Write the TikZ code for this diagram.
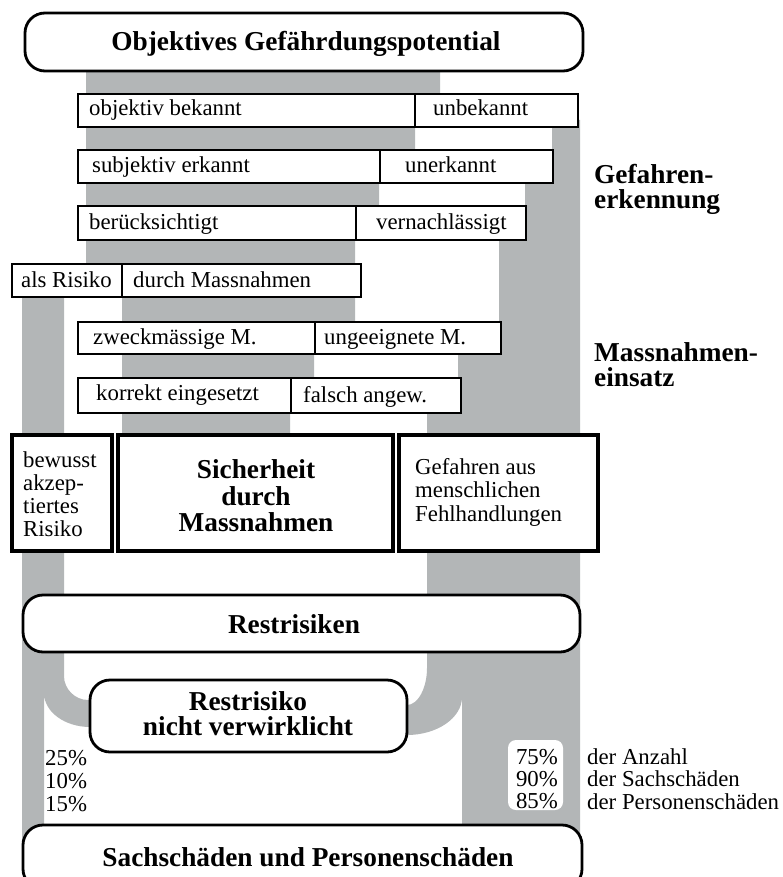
\documentclass[tikz,border=0pt]{standalone}
\usepackage{fontspec}
\setmainfont{Liberation Serif}
\usepackage{tikz}
\definecolor{flowgray}{RGB}{179,182,183}
\hyphenpenalty=10000

\begin{document}
\begin{tikzpicture}[x=1pt,y=-1pt,
    flow/.style={fill=flowgray},
    cell/.style={draw,fill=white,line width=1.6pt},
    bigcell/.style={draw,fill=white,line width=3.2pt},
    roundbox/.style={draw,fill=white,line width=2.8pt,rounded corners=20pt},
    txt/.style={inner sep=0pt,anchor=base west,font=\fontsize{22.8}{23}\selectfont},
    bold/.style={inner sep=0pt,font=\fontsize{27.3}{25}\selectfont\bfseries}]
\useasboundingbox (0,0) rectangle (782,877);
\clip (0,0) rectangle (782,877);

\fill[flow] (86,65) -- (440,65) -- (440,110) -- (415,110) -- (415,165) -- (379,165) -- (379,220) -- (355,220) -- (355,280) -- (86,280) -- cycle;
\fill[flow] (122,280) -- (355,280) -- (355,338) -- (314,338) -- (314,395) -- (290,395) -- (290,445) -- (122,445) -- cycle;
\fill[flow] (22,280) -- (64,280) -- (64,676) .. controls (64,689) and (75,700) .. (88,700) -- (96,700) -- (96,727) -- (90,727) .. controls (65,727) and (44,712) .. (44,693) -- (44,840) -- (22,840) -- cycle;
\fill[flow] (552,120) -- (580,120) -- (580,840) -- (462,840) -- (462,697) .. controls (462,718) and (437,735) .. (407,735) -- (400,735) -- (400,705) -- (407,705) .. controls (418,705) and (427,688) .. (427,668) -- (427,413) -- (458,413) -- (458,354) -- (499,354) -- (499,240) -- (525,240) -- (525,183) -- (552,183) -- cycle;

\draw[roundbox] (25,13) rectangle (583,71);
\node[bold,anchor=base] (gefpot) at (306,51) {Objektives Gefährdungspotential};

\draw[cell] (78,94) rectangle (415,127);
\draw[cell] (415,94) rectangle (578,127);
\node[txt] (objbek) at (89,116) {objektiv bekannt};
\node[txt] (unbek) at (433,116) {unbekannt};

\draw[cell] (78,150) rectangle (380,183);
\draw[cell] (380,150) rectangle (553,183);
\node[txt] (subjerk) at (92,172.5) {subjektiv erkannt};
\node[txt] (unerk) at (405,172.5) {unerkannt};

\draw[cell] (78,206) rectangle (356,240);
\draw[cell] (356,206) rectangle (526,240);
\node[txt] (berueck) at (89,229.5) {berücksichtigt};
\node[txt] (vernachl) at (376,229.5) {vernachlässigt};

\draw[cell] (12,264) rectangle (122,297);
\draw[cell] (122,264) rectangle (361,297);
\node[txt] (alsrisiko) at (21,287) {als Risiko};
\node[txt] (durchmass) at (133,287) {durch Massnahmen};

\draw[cell] (78,322) rectangle (315,354);
\draw[cell] (315,322) rectangle (501,354);
\node[txt] (zweckm) at (93,344) {zweckmässige M.};
\node[txt] (ungeeig) at (324,344) {ungeeignete M.};

\draw[cell] (78,378) rectangle (291,413);
\draw[cell] (291,378) rectangle (461,413);
\node[txt] (korrekt) at (96,400) {korrekt eingesetzt};
\node[txt] (falsch) at (303,402.5) {falsch angew.};

\draw[bigcell] (12,435) rectangle (112,551);
\draw[bigcell] (118,435) rectangle (393,551);
\draw[bigcell] (399,435) rectangle (598,551);
\node[txt,anchor=west,align=left] (bewusst) at (23,494) {bewusst\\akzep-\\tiertes\\Risiko};
\node[bold,align=center,font=\fontsize{27.3}{26.5}\selectfont\bfseries] (sicherheit) at (256,496) {Sicherheit\\durch\\Massnahmen};
\node[txt,anchor=west,align=left,font=\fontsize{22.8}{23.5}\selectfont] (fehlhandl) at (415,492) {Gefahren aus\\menschlichen\\Fehlhandlungen};

\node[bold,anchor=west,align=left] (erkennung) at (594,189) {Gefahren-\\erkennung};
\node[bold,anchor=west,align=left] (einsatz) at (594,365) {Massnahmen-\\einsatz};

\draw[roundbox] (23,595) rectangle (580,652);
\node[bold,anchor=base] (restrisiken) at (294,633) {Restrisiken};

\draw[roundbox] (90,680) rectangle (407,752);
\node[bold,align=center] (nichtverw) at (248,714) {Restrisiko\\nicht verwirklicht};

\node[txt,anchor=west,align=left] (pctlinks) at (45,781.5) {25\%\\10\%\\15\%};
\fill[white,rounded corners=8pt] (508,740) rectangle (563,810);
\node[txt,anchor=east,align=right,font=\fontsize{22.8}{22}\selectfont] (pctrechts) at (558,779) {75\%\\90\%\\85\%};
\node[txt,anchor=west,align=left,font=\fontsize{22.8}{22.5}\selectfont] (anteile) at (587,779) {der Anzahl\\der Sachschäden\\der Personenschäden};

\draw[roundbox] (23,825) rectangle (582,889);
\node[bold,anchor=base] (schaeden) at (308,866.5) {Sachschäden und Personenschäden};
\end{tikzpicture}
\end{document}
